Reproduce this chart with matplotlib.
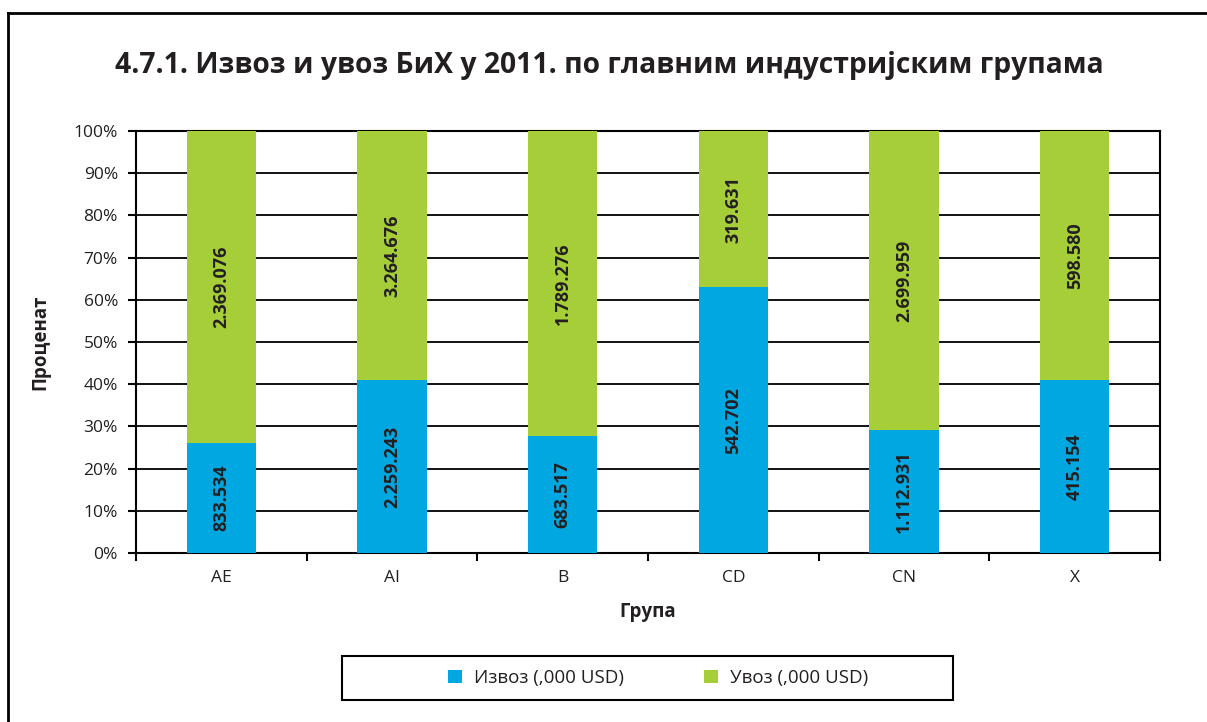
import numpy as np
import matplotlib.pyplot as plt
from matplotlib.lines import Line2D
from matplotlib.patches import Rectangle

plt.rcParams['font.family'] = ['Open Sans', 'DejaVu Sans']

groups = ['AE', 'AI', 'B', 'CD', 'CN', 'X']
izvoz = [833534, 2259243, 683517, 542702, 1112931, 415154]
uvoz = [2369076, 3264676, 1789276, 319631, 2699959, 598580]
izvoz_lbl = ['833.534', '2.259.243', '683.517', '542.702', '1.112.931', '415.154']
uvoz_lbl = ['2.369.076', '3.264.676', '1.789.276', '319.631', '2.699.959', '598.580']

blue = '#00a7e1'
green = '#a6ce39'
txt = '#231f20'

izvoz = np.array(izvoz, dtype=float)
uvoz = np.array(uvoz, dtype=float)
tot = izvoz + uvoz
p_iz = izvoz / tot * 100
p_uv = uvoz / tot * 100

W, H = 1207, 722
fig = plt.figure(figsize=(W / 100, H / 100), dpi=100)
ax = fig.add_axes([136/W, 1 - 553/H, (1160-136)/W, (553-131)/H])

x = np.arange(len(groups))
w = 0.405
ax.bar(x, p_iz, w, color=blue, zorder=3, label='Извоз (,000 USD)')
ax.bar(x, p_uv, w, bottom=p_iz, color=green, zorder=3, label='Увоз (,000 USD)')

for i in range(len(groups)):
    ax.text(x[i], p_iz[i] / 2, izvoz_lbl[i], rotation=90, ha='center', va='center',
            fontsize=13, fontweight='bold', color=txt, zorder=4)
    ax.text(x[i], p_iz[i] + p_uv[i] / 2, uvoz_lbl[i], rotation=90, ha='center', va='center',
            fontsize=13, fontweight='bold', color=txt, zorder=4)

ax.set_xlim(-0.5, len(groups) - 0.5)
ax.set_ylim(0, 100)
ax.set_yticks(np.arange(0, 101, 10))
ax.set_yticklabels([f'{v}%' for v in range(0, 101, 10)], fontsize=12.5, color=txt)
ax.yaxis.grid(True, color='black', linewidth=1.3, zorder=0)
ax.set_xticks(x)
ax.set_xticklabels(groups, fontsize=12.5, color=txt)
ax.set_xticks(np.arange(-0.5, len(groups), 1), minor=True)
ax.tick_params(axis='x', which='major', length=0, pad=12)
ax.tick_params(axis='x', which='minor', length=6, width=1.5, color='black')
ax.tick_params(axis='y', length=6, width=1.5, color='black', pad=7)
for s in ax.spines.values():
    s.set_linewidth(1.5)
    s.set_color('black')

ax.set_xlabel('Група', fontsize=13.5, fontweight='bold', color=txt, labelpad=12)
ax.set_ylabel('Проценат', fontsize=13.5, fontweight='bold', color=txt, labelpad=17)

fig.text(609/W, 1 - 65/H, '4.7.1. Извоз и увоз БиХ у 2011. по главним индустријским групама',
         ha='center', va='center', fontsize=20.3, fontweight='bold', color=txt)

# legend box like in Excel, fixed width
fig.add_artist(Rectangle((342/W, 1 - 700/H), (953-342)/W, 44/H, transform=fig.transFigure,
                         facecolor='white', edgecolor='black', lw=1.5, zorder=1))
leg = fig.legend(loc='center', bbox_to_anchor=(658/W, 1 - 678/H), ncol=2,
                 fontsize=13.5, frameon=False,
                 handlelength=0.75, handleheight=0.75, handletextpad=0.6, columnspacing=4.3)
leg.set_zorder(2)
for t in leg.get_texts():
    t.set_color(txt)

# outer frame (top and left visible)
fig.add_artist(Line2D([8/W, 8/W], [0, 1 - 13/H], transform=fig.transFigure, color='black', lw=2))
fig.add_artist(Line2D([8/W, 1], [1 - 13/H, 1 - 13/H], transform=fig.transFigure, color='black', lw=2))

fig.savefig('out.png', dpi=100)
